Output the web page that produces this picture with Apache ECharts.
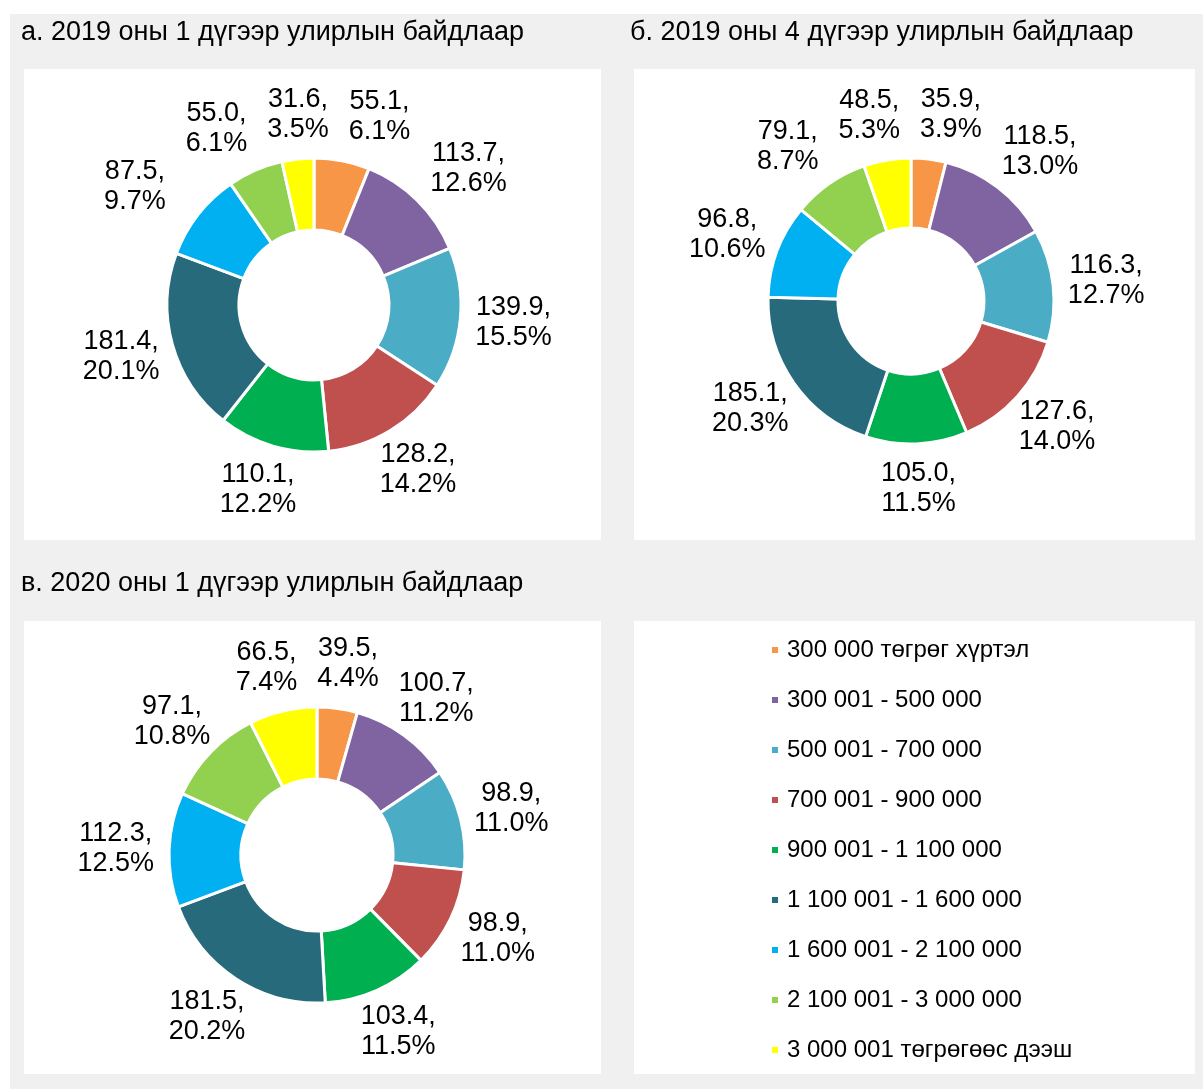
<!DOCTYPE html>
<html>
<head>
<meta charset="utf-8">
<title>Байдлаар</title>
<script src="https://cdn.jsdelivr.net/npm/echarts@6/dist/echarts.min.js"></script>
<style>
  html, body { margin: 0; padding: 0; background: #fff; }
  #chart { width: 1203px; height: 1089px; }
</style>
</head>
<body>
<div id="chart"></div>
<script>
// 数据
//-----
var categories = ['300 000 төгрөг хүртэл', '300 001 - 500 000', '500 001 - 700 000',
  '700 001 - 900 000', '900 001 - 1 100 000', '1 100 001 - 1 600 000',
  '1 600 001 - 2 100 000', '2 100 001 - 3 000 000', '3 000 001 төгрөгөөс дээш'];
var colors = ['#F79646', '#8064A2', '#4BACC6', '#C0504D', '#00B050',
  '#276A7C', '#00B0F0', '#92D050', '#FFFF00'];

var titles = ['а. 2019 оны 1 дүгээр улирлын байдлаар',
  'б. 2019 оны 4 дүгээр улирлын байдлаар',
  'в. 2020 оны 1 дүгээр улирлын байдлаар'];

var values2019q1 = [55.1, 113.7, 139.9, 128.2, 110.1, 181.4, 87.5, 55.0, 31.6];
var percent2019q1 = [6.1, 12.6, 15.5, 14.2, 12.2, 20.1, 9.7, 6.1, 3.5];

var values2019q4 = [35.9, 118.5, 116.3, 127.6, 105.0, 185.1, 96.8, 79.1, 48.5];
var percent2019q4 = [3.9, 13.0, 12.7, 14.0, 11.5, 20.3, 10.6, 8.7, 5.3];

var values2020q1 = [39.5, 100.7, 98.9, 98.9, 103.4, 181.5, 112.3, 97.1, 66.5];
var percent2020q1 = [4.4, 11.2, 11.0, 11.0, 11.5, 20.2, 12.5, 10.8, 7.4];

var font = 'Liberation Sans, Arial, sans-serif';
var labelSize = 27;
var labelLineHeight = 30;

// 标签文字
function labelText(v, pct) {
  return v.toFixed(1) + ',\n' + pct.toFixed(1) + '%';
}

// 标签布局：放在扇区中线外侧，重叠时左右推开
//-----------------------------------------
var measureCtx = document.createElement('canvas').getContext('2d');
measureCtx.font = labelSize + 'px ' + font;

function layoutLabels(values, percents, center, outerR) {
  var total = values.reduce(function(s, v) { return s + v; }, 0);
  var acc = 0;
  var gap = 15;
  var boxes = values.map(function(v, i) {
    var mid = (acc + v / 2) / total * Math.PI * 2;
    acc += v;
    var ux = Math.sin(mid), uy = -Math.cos(mid);
    var lines = labelText(v, percents[i]).split('\n');
    var w = Math.max.apply(null, lines.map(function(s) { return measureCtx.measureText(s).width; }));
    var h = lines.length * labelLineHeight;
    var px = center[0] + (outerR + gap) * ux;
    var py = center[1] + (outerR + gap) * uy;
    return { x: px + ux * w / 2, y: py + uy * h / 2, w: w, h: h };
  });
  var minGap = 20;
  for (var it = 0; it < 40; it++) {
    for (var i = 0; i < boxes.length; i++) {
      var a = boxes[i], b = boxes[(i + 1) % boxes.length];
      var oy = (a.h + b.h) / 2 - Math.abs(a.y - b.y);
      var ox = (a.w + b.w) / 2 + minGap - Math.abs(a.x - b.x);
      if (oy > 0 && ox > 0) {
        var dir = b.x >= a.x ? 1 : -1;
        a.x -= dir * ox / 2;
        b.x += dir * ox / 2;
      }
    }
  }
  return boxes;
}

// 构建饼图
function makePie(name, values, percents, center, radius) {
  var data = values.map(function(v, i) {
    return { name: categories[i], value: v, pct: percents[i] };
  });
  var boxes = layoutLabels(values, percents, center, radius[1]);
  return {
    name: name,
    type: 'pie',
    center: center,
    radius: radius,
    startAngle: 90,
    clockwise: true,
    avoidLabelOverlap: false,
    animation: false,
    itemStyle: { borderColor: '#fff', borderWidth: 3 },
    label: {
      show: true,
      position: 'outside',
      color: '#000',
      fontFamily: font,
      fontSize: labelSize,
      lineHeight: labelLineHeight,
      formatter: function(p) {
        return labelText(p.value, p.data.pct);
      }
    },
    labelLine: { show: false },
    labelLayout: function(params) {
      var b = boxes[params.dataIndex];
      return { x: b.x, y: b.y, align: 'center', verticalAlign: 'middle' };
    },
    emphasis: { disabled: true },
    data: data
  };
}

// 背景面板
var panels = [
  [24, 69, 577, 471],
  [634, 69, 561, 471],
  [24, 621, 577, 453],
  [634, 621, 561, 453]
];
var graphics = [{
  type: 'rect', z: -10,
  shape: { x: 10, y: 14, width: 1193, height: 1075 },
  style: { fill: '#f0f0f0' }
}];
panels.forEach(function(p) {
  graphics.push({
    type: 'rect', z: -9,
    shape: { x: p[0], y: p[1], width: p[2], height: p[3] },
    style: { fill: '#fff' }
  });
});

var myChart = echarts.init(document.getElementById('chart'));
var option = {
  color: colors,
  backgroundColor: '#fff',
  graphic: graphics,
  title: [
    { text: titles[0], left: 21, top: 19 },
    { text: titles[1], left: 630, top: 19 },
    { text: titles[2], left: 21, top: 570 }
  ].map(function(t) {
    t.padding = 0;
    t.textStyle = { fontFamily: font, fontSize: 27, fontWeight: 'normal', color: '#000' };
    return t;
  }),
  legend: {
    orient: 'vertical',
    left: 770,
    top: 638,
    padding: 0,
    icon: 'rect',
    itemWidth: 8,
    itemHeight: 8,
    itemGap: 26,
    data: categories,
    textStyle: { fontFamily: font, fontSize: 24, color: '#000', lineHeight: 24, padding: [0, 0, 0, 3] }
  },
  series: [
    makePie(titles[0], values2019q1, percent2019q1, [314, 305], [75, 147]),
    makePie(titles[1], values2019q4, percent2019q4, [911, 301], [73, 143]),
    makePie(titles[2], values2020q1, percent2020q1, [317, 855], [76, 148])
  ]
};
myChart.setOption(option);
</script>
</body>
</html>
